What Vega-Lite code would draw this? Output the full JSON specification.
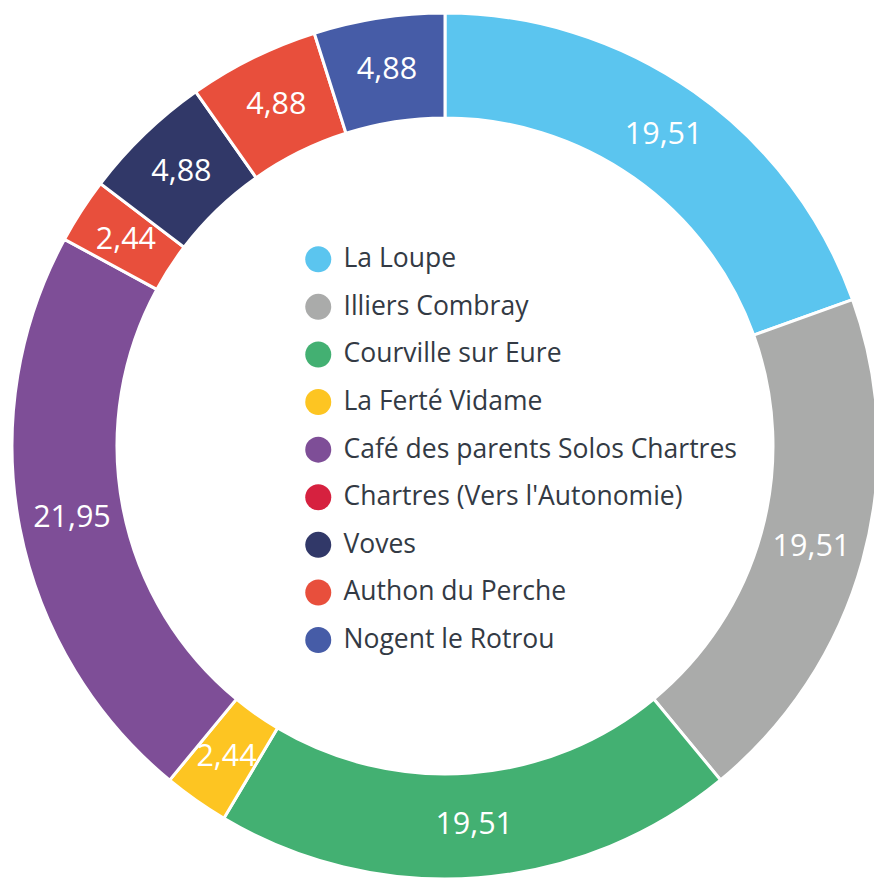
{
  "$schema": "https://vega.github.io/schema/vega-lite/v6.json",
  "width": 890,
  "height": 892,
  "autosize": {"type": "none"},
  "padding": 0,
  "background": "white",
  "config": {
    "view": {"stroke": null},
    "locale": {"number": {"decimal": ",", "thousands": " ", "grouping": [3], "currency": ["", " €"]}}
  },
  "data": {
    "values": [
      {"ordre": 1, "lieu": "La Loupe", "valeur": 19.51},
      {"ordre": 2, "lieu": "Illiers Combray", "valeur": 19.51},
      {"ordre": 3, "lieu": "Courville sur Eure", "valeur": 19.51},
      {"ordre": 4, "lieu": "La Ferté Vidame", "valeur": 2.44},
      {"ordre": 5, "lieu": "Café des parents Solos Chartres", "valeur": 21.95},
      {"ordre": 6, "lieu": "Chartres (Vers l'Autonomie)", "valeur": 2.44},
      {"ordre": 7, "lieu": "Voves", "valeur": 4.88},
      {"ordre": 8, "lieu": "Authon du Perche", "valeur": 4.88},
      {"ordre": 9, "lieu": "Nogent le Rotrou", "valeur": 4.88}
    ]
  },
  "encoding": {
    "theta": {"field": "valeur", "type": "quantitative", "stack": true},
    "order": {"field": "ordre", "type": "quantitative", "sort": "ascending"}
  },
  "layer": [
    {
      "mark": {"type": "arc", "outerRadius": 433, "innerRadius": 328, "stroke": "white", "strokeWidth": 3},
      "encoding": {
        "color": {
          "condition": {"test": "datum.lieu === \"Chartres (Vers l'Autonomie)\"", "value": "#E84F3C"},
          "field": "lieu",
          "type": "nominal",
          "scale": {
            "domain": ["La Loupe", "Illiers Combray", "Courville sur Eure", "La Ferté Vidame", "Café des parents Solos Chartres", "Chartres (Vers l'Autonomie)", "Voves", "Authon du Perche", "Nogent le Rotrou"],
            "range": ["#5BC5EF", "#AAABAA", "#43B072", "#FDC522", "#7E4E97", "#D6213F", "#313868", "#E84F3C", "#465CA7"]
          },
          "sort": null,
          "legend": {
            "title": null,
            "orient": "none",
            "legendX": 305,
            "legendY": 246,
            "padding": 0,
            "symbolType": "circle",
            "symbolSize": 676,
            "symbolStrokeWidth": 0,
            "symbolOpacity": 1,
            "labelFont": "Open Sans",
            "labelFontSize": 26.5,
            "labelColor": "#333a44",
            "labelOffset": 12,
            "labelLimit": 600,
            "rowPadding": 20.6
          }
        }
      }
    },
    {
      "mark": {"type": "text", "radius": 380, "font": "Open Sans", "fontSize": 30.5, "color": "white"},
      "encoding": {
        "text": {"field": "valeur", "type": "quantitative", "format": ".2f"}
      }
    }
  ]
}
